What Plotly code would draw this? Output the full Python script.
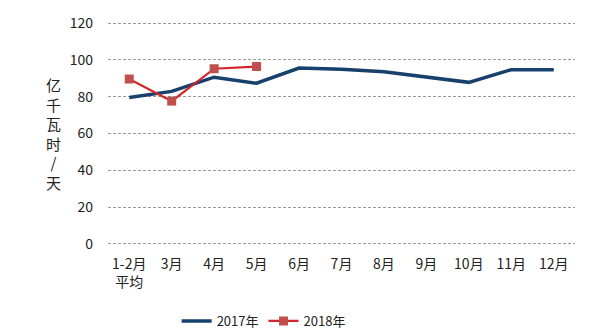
import plotly.graph_objects as go

categories = ["1-2月<br>平均", "3月", "4月", "5月", "6月", "7月", "8月", "9月", "10月", "11月", "12月"]
values_2017 = [79.6, 82.9, 90.6, 87.3, 95.6, 94.9, 93.5, 90.6, 87.8, 94.7, 94.7]
categories_2018 = ["1-2月<br>平均", "3月", "4月", "5月"]
values_2018 = [89.6, 77.6, 95.2, 96.4]
y_ticks = [0, 20, 40, 60, 80, 100, 120]

font_family = "Noto Sans CJK SC, Noto Sans, sans-serif"

fig = go.Figure()
fig.add_trace(go.Scatter(
    x=categories, y=values_2017, name="2017年", mode="lines",
    line=dict(color="#17406D", width=3.5),
))
fig.add_trace(go.Scatter(
    x=categories_2018, y=values_2018, name="2018年", mode="lines+markers",
    line=dict(color="#D3242C", width=2.2),
    marker=dict(symbol="square", size=9, color="#C0504D"),
))

fig.update_layout(
    width=616, height=335,
    margin=dict(l=108, r=41, t=16, b=90),
    paper_bgcolor="white", plot_bgcolor="white",
    font=dict(family=font_family, size=14, color="#222222"),
    showlegend=True,
    legend=dict(
        orientation="h", xref="container", yref="container",
        x=0.428, xanchor="center", y=0.042, yanchor="middle",
        font=dict(size=13, color="#222222"),
        itemwidth=30, tracegroupgap=0,
    ),
    xaxis=dict(
        type="category", categoryorder="array", categoryarray=categories,
        range=[-0.5, 10.5], showgrid=False, showline=False, zeroline=False,
        ticks="", tickfont=dict(size=14), ticklabelstandoff=9,
    ),
    yaxis=dict(
        range=[-0.6, 120.6], tickvals=y_ticks, showgrid=True,
        gridcolor="#9A9A9A", griddash="3px,2px", gridwidth=1,
        zeroline=False, showline=False, ticks="",
        tickfont=dict(size=14), ticklabelstandoff=14,
    ),
    annotations=[dict(
        text="亿<br>千<br>瓦<br>时<br>/<br>天", xref="paper", yref="paper",
        x=-(108 - 53) / 467, y=0.5, xanchor="center", yanchor="middle",
        showarrow=False, font=dict(size=15, color="#222222"),
    )],
)

fig.write_html("out.html")
